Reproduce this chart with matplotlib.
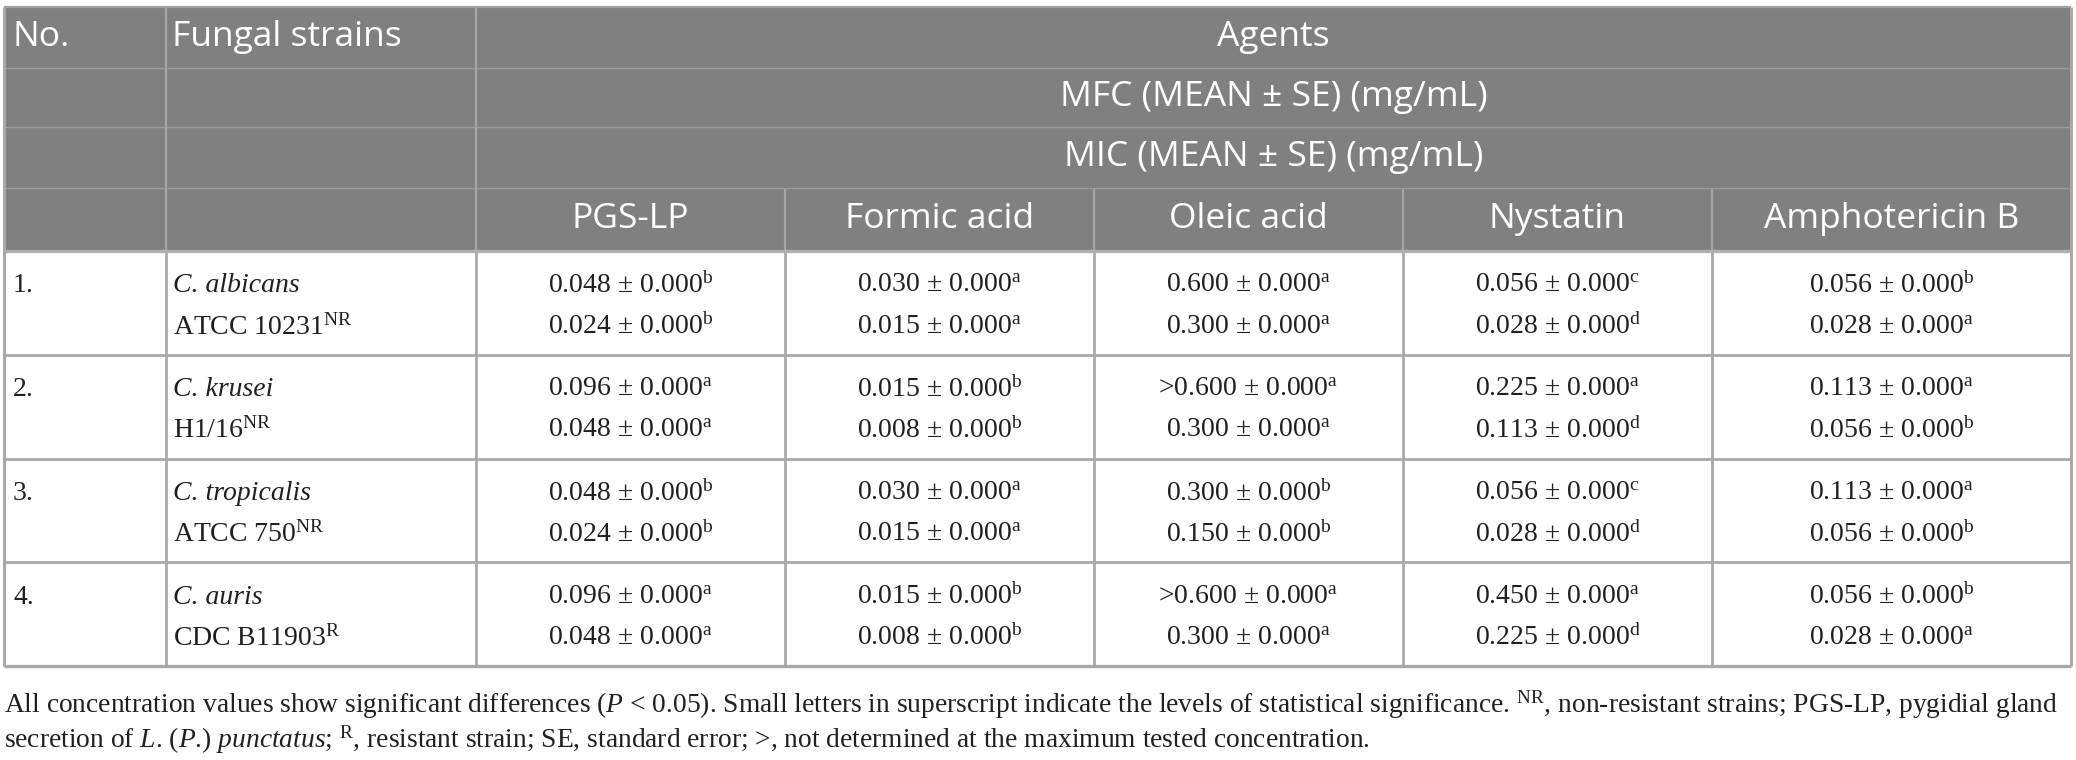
import matplotlib
matplotlib.use("Agg")
import matplotlib.pyplot as plt
from matplotlib.patches import Rectangle

############################################################
# INPUT

strain_no = ["1.", "2.", "3.", "4."]
species = ["C. albicans", "C. krusei", "C. tropicalis", "C. auris"]
strain_ids = ["ATCC 10231", "H1/16", "ATCC 750", "CDC B11903"]
strain_marks = ["NR", "NR", "NR", "R"]
agents = ["PGS-LP", "Formic acid", "Oleic acid", "Nystatin", "Amphotericin B"]

# MFC mean (mg/mL) per strain, one entry per agent
mfc_mean = [["0.048", "0.030", "0.600", "0.056", "0.056"],
            ["0.096", "0.015", ">0.600", "0.225", "0.113"],
            ["0.048", "0.030", "0.300", "0.056", "0.113"],
            ["0.096", "0.015", ">0.600", "0.450", "0.056"]]
mfc_se = [["0.000"] * 5 for _ in range(4)]
mfc_sig = [["b", "a", "a", "c", "b"],
           ["a", "b", "a", "a", "a"],
           ["b", "a", "b", "c", "a"],
           ["a", "b", "a", "a", "b"]]

# MIC mean (mg/mL)
mic_mean = [["0.024", "0.015", "0.300", "0.028", "0.028"],
            ["0.048", "0.008", "0.300", "0.113", "0.056"],
            ["0.024", "0.015", "0.150", "0.028", "0.056"],
            ["0.048", "0.008", "0.300", "0.225", "0.028"]]
mic_se = [["0.000"] * 5 for _ in range(4)]
mic_sig = [["b", "a", "a", "d", "a"],
           ["a", "b", "a", "d", "b"],
           ["b", "a", "b", "d", "b"],
           ["a", "b", "a", "d", "a"]]

header_top = ["No.", "Fungal strains", "Agents"]
header_mfc = "MFC (MEAN \u00b1 SE) (mg/mL)"
header_mic = "MIC (MEAN \u00b1 SE) (mg/mL)"

foot1 = (r"All concentration values show significant differences ($\mathit{P}$ < 0.05). "
         r"Small letters in superscript indicate the levels of statistical significance. "
         r"$^{\mathrm{NR}}$, non-resistant strains; PGS-LP, pygidial gland")
foot2 = (r"secretion of $\mathit{L}$. ($\mathit{P}$.) $\mathit{punctatus}$; $^{\mathrm{R}}$, "
         r"resistant strain; SE, standard error; >, not determined at the maximum tested concentration.")

# END INPUT
############################################################

plt.rcParams['mathtext.fontset'] = 'custom'
plt.rcParams['mathtext.rm'] = 'Liberation Serif'
plt.rcParams['mathtext.it'] = 'Liberation Serif:italic'
plt.rcParams['mathtext.bf'] = 'Liberation Serif:bold'

W, H = 2076, 760
fig = plt.figure(figsize=(W / 100, H / 100), dpi=100)
ax = fig.add_axes([0, 0, 1, 1])
ax.set_xlim(0, W)
ax.set_ylim(H, 0)
ax.axis('off')

# layout (pixels)
xl, xr = 4, 2071
cols = [xl, 166, 476, 785, 1094, 1403, 1712, xr]
hy = [7, 68, 127, 188, 251]
row_h = 103.75
body_top = hy[-1]
body_bot = body_top + row_h * len(strain_no)

head_bg = '#808080'
head_line = '#9c9c9c'
grid = '#a9a9a9'
sans = 'Open Sans'
serif = 'Liberation Serif'
ink = '#231f20'
hfs = 25.5
bfs = 20

ax.add_patch(Rectangle((xl, hy[0]), xr - xl, hy[-1] - hy[0], facecolor=head_bg, edgecolor='none'))

# header grid
for y in hy[1:-1]:
    ax.hlines(y, xl, xr, color=head_line, lw=1.0)
for x in cols[1:3]:
    ax.vlines(x, hy[0], hy[-1], color='#a6a6a6', lw=1.6)
for x in cols[3:-1]:
    ax.vlines(x, hy[3], hy[-1], color='#a6a6a6', lw=1.6)

# body grid
for i in range(1, len(strain_no)):
    ax.hlines(body_top + i * row_h, xl, xr, color=grid, lw=2.0)
for x in cols[1:-1]:
    ax.vlines(x, body_top, body_bot, color=grid, lw=2.0)
ax.hlines(hy[-1], xl, xr, color='#b0b0b0', lw=2.4)
ax.hlines(body_bot, xl, xr, color=grid, lw=2.4)
ax.hlines(hy[0], xl, xr, color='#a0a0a0', lw=1.6)
ax.vlines([xl, xr], hy[0], body_bot, color=grid, lw=2.2)

# header text
def hc(i):
    return (hy[i] + hy[i + 1]) / 2

agents_mid = (cols[2] + cols[-1]) / 2
ax.text(cols[0] + 8, hc(0), header_top[0], color='white', family=sans, fontsize=hfs, va='center', ha='left')
ax.text(cols[1] + 6, hc(0), header_top[1], color='white', family=sans, fontsize=hfs, va='center', ha='left')
ax.text(agents_mid, hc(0), header_top[2], color='white', family=sans, fontsize=hfs, va='center', ha='center')
ax.text(agents_mid, hc(1), header_mfc, color='white', family=sans, fontsize=hfs, va='center', ha='center')
ax.text(agents_mid, hc(2), header_mic, color='white', family=sans, fontsize=hfs, va='center', ha='center')
for j, name in enumerate(agents):
    ax.text((cols[j + 2] + cols[j + 3]) / 2, hc(3), name, color='white', family=sans,
            fontsize=hfs, va='center', ha='center')

# body text
def cell(mean, se, sig):
    return mean + " \u00b1 " + se + r"$^{\mathrm{" + sig + "}}$"

for i in range(len(strain_no)):
    top = body_top + i * row_h
    y1, y2 = top + 35, top + 76
    ax.text(cols[0] + 9, y1, strain_no[i], family=serif, fontsize=bfs, va='center', ha='left', color=ink)
    ax.text(cols[1] + 7, y1, species[i], family=serif, style='italic', fontsize=bfs,
            va='center', ha='left', color=ink)
    ax.text(cols[1] + 7, y2, strain_ids[i] + r"$^{\mathrm{" + strain_marks[i] + "}}$", family=serif,
            fontsize=bfs, va='center', ha='left', color=ink)
    for j in range(len(agents)):
        xc = (cols[j + 2] + cols[j + 3]) / 2
        ax.text(xc, y1, cell(mfc_mean[i][j], mfc_se[i][j], mfc_sig[i][j]), family=serif,
                fontsize=bfs, va='center', ha='center', color=ink)
        ax.text(xc, y2, cell(mic_mean[i][j], mic_se[i][j], mic_sig[i][j]), family=serif,
                fontsize=bfs, va='center', ha='center', color=ink)

# footnote, sized to span the table width
t1 = ax.text(xl, 705, foot1, family=serif, fontsize=16, va='center', ha='left', color=ink)
t2 = ax.text(xl, 740, foot2, family=serif, fontsize=16, va='center', ha='left', color=ink)
r = fig.canvas.get_renderer()
w1 = t1.get_window_extent(r).width
fs = 16 * (2058 - xl) / w1
t1.set_fontsize(fs)
t2.set_fontsize(fs)

fig.savefig("out.png", dpi=100)
plt.close(fig)
